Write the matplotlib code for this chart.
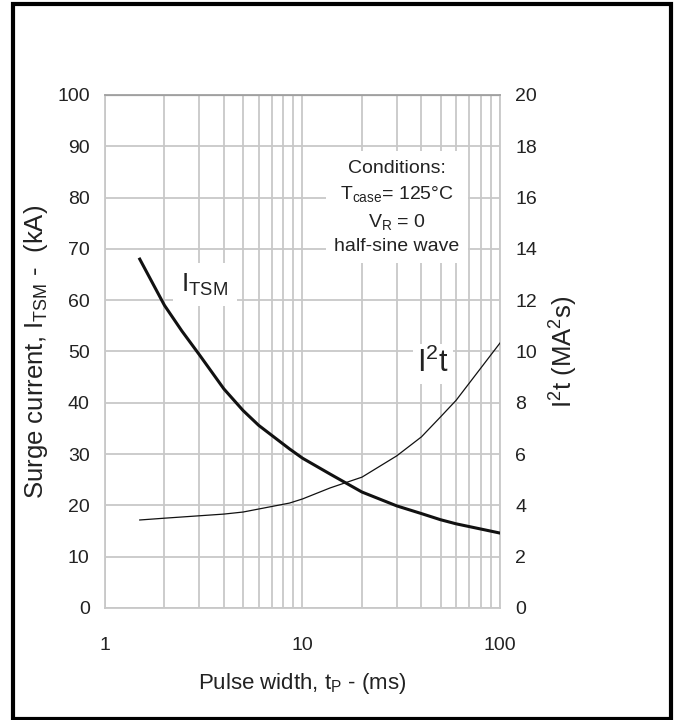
import numpy as np
import matplotlib
matplotlib.use("Agg")
import matplotlib.pyplot as plt
from matplotlib.patches import Rectangle

plt.rcParams["font.family"] = ["Liberation Sans", "DejaVu Sans"]
plt.rcParams["mathtext.fontset"] = "custom"
plt.rcParams["mathtext.rm"] = "Liberation Sans"
plt.rcParams["mathtext.it"] = "Liberation Sans"

# pulse width (ms)
t_p = [1.5, 2, 2.45, 3, 4, 5, 6, 8.6, 10, 13.8, 20, 30, 40, 50, 60, 100]
# surge current (kA)
i_tsm = [68, 59, 54.0, 49.4, 42.7, 38.5, 35.6, 31.0, 29.2, 26.1, 22.6, 19.9, 18.4, 17.2, 16.4, 14.6]
# i2t (MA^2 s)
t_i2t = [1.5, 2, 4, 5, 8.6, 10, 13.8, 20, 30, 40, 50, 60, 100]
i2t = [3.43, 3.5, 3.66, 3.74, 4.09, 4.25, 4.68, 5.1, 5.93, 6.67, 7.45, 8.1, 10.33]

left_ticks = list(range(0, 101, 10))
right_ticks = list(range(0, 21, 2))
x_ticks = [1, 10, 100]

GRID = "#c8c8c8"
TXT = "#222222"

fig = plt.figure(figsize=(6.79, 7.2), dpi=100)
ax = fig.add_axes([0.1546, 0.1556, 0.5818, 0.7125])
ax.set_xscale("log")
ax.set_xlim(1, 100)
ax.set_ylim(0, 100)

grid_x = list(range(1, 10)) + list(range(10, 101, 10))
for gx in grid_x:
    ax.axvline(gx, color=GRID, lw=1.3, zorder=1)
for gy in left_ticks:
    ax.axhline(gy, color=GRID, lw=1.3, zorder=1)
ax.axhline(100, color="#a0a0a0", lw=1.6, zorder=1)

for s in ax.spines.values():
    s.set_color(GRID)
    s.set_linewidth(1.3)
ax.spines["top"].set_color("#a0a0a0")

ax.set_xticks(x_ticks)
ax.set_xticklabels([str(v) for v in x_ticks])
ax.xaxis.set_minor_locator(matplotlib.ticker.NullLocator())
ax.set_yticks(left_ticks)
ax.tick_params(length=0, labelsize=14, colors=TXT, pad=11)
ax.tick_params(axis="x", pad=21)

ax.plot(t_p, i_tsm, color="#111111", lw=2.2, zorder=4)

ax2 = ax.twinx()
ax2.set_ylim(0, 20)
ax2.set_yticks(right_ticks)
ax2.tick_params(length=0, labelsize=14, colors=TXT, pad=11)
for s in ax2.spines.values():
    s.set_visible(False)
ax2.plot(t_i2t, i2t, color="#111111", lw=0.9, zorder=4)

ax.set_xlabel(r"Pulse width, t$_{\mathregular{P}}$ - (ms)", fontsize=16,
              color=TXT, labelpad=12)
ax.set_ylabel(r"Surge current, I$_{\mathregular{TSM}}$ -  (kA)", fontsize=18.5,
              color=TXT, labelpad=5)
ax2.set_ylabel(r"I$^{\mathregular{2}}$t (MA$^{\mathregular{2}}$s)", fontsize=18.5,
               color=TXT, labelpad=8)

ax.text(3.2, 63, r"I$_{\mathregular{TSM}}$", fontsize=19, color=TXT,
        ha="center", va="center",
        bbox=dict(facecolor="white", edgecolor="none", pad=6), zorder=3)
ax.text(45.8, 47.6, r"I$^{\mathregular{2}}$t", fontsize=22, color=TXT,
        ha="center", va="center",
        bbox=dict(facecolor="white", edgecolor="none", pad=3), zorder=3)
ax.text(30, 78.1,
        "Conditions:\n" + r"T$_{\mathregular{case}}$= 125°C" + "\n"
        + r"V$_{\mathregular{R}}$ = 0" + "\nhalf-sine wave",
        fontsize=14, color=TXT, ha="center", va="center",
        linespacing=1.5, bbox=dict(facecolor="white", edgecolor="none", pad=6),
        zorder=3)

fig.patches.append(Rectangle((13 / 679, 0.001), 658 / 679, 1 - 4 / 720 - 0.001,
                             transform=fig.transFigure, fill=False,
                             edgecolor="black", lw=3.0))

fig.savefig("out.png", dpi=100)
